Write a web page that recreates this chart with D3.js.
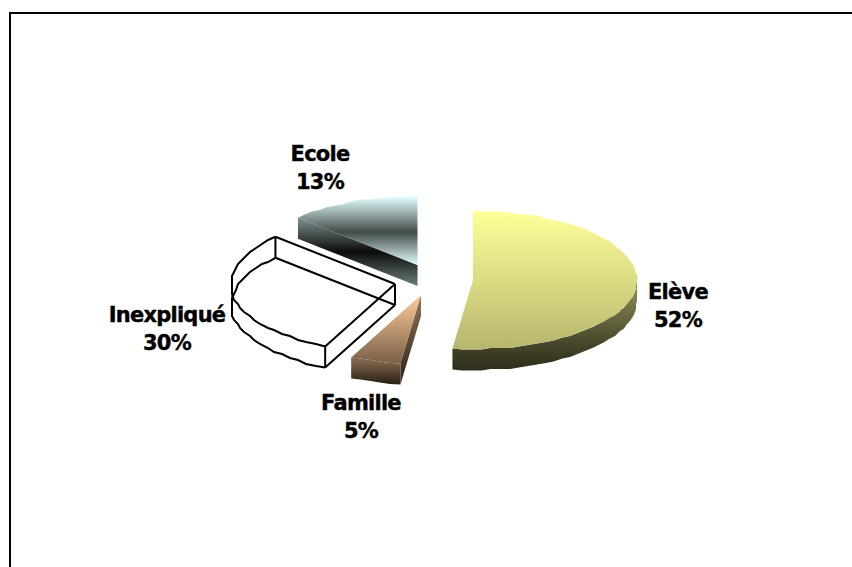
<!DOCTYPE html>
<html>
<head>
<meta charset="utf-8">
<script src="https://cdn.jsdelivr.net/npm/d3@7"></script>
<style>
html, body { margin: 0; padding: 0; background: #fff; }
svg { display: block; }
text { font-family: "DejaVu Sans", sans-serif; font-weight: bold; font-size: 21px; fill: #000; stroke: #000; stroke-width: 0.4px; letter-spacing: -0.75px; text-anchor: middle; }
</style>
</head>
<body>
<script>
'use strict';

var categories = ['Elève', 'Famille', 'Inexpliqué', 'Ecole'];
var values = [52, 5, 30, 13];
var centers = [[473, 280], [421, 295], [395, 284], [417.5, 265]];
var labelPos = [[678, 299], [361, 410], [167, 322], [320, 161]];

var width = 852, height = 567;
var rx = 164, ry = 69, depth = 21;

var svg = d3.select('body').append('svg').attr('width', width).attr('height', height);
var defs = svg.append('defs');

function gradient(id, y0, y1, stops) {
    var g = defs.append('linearGradient').attr('id', id)
        .attr('gradientUnits', 'userSpaceOnUse')
        .attr('x1', 0).attr('x2', 0).attr('y1', y0).attr('y2', y1);
    stops.forEach(function(s) {
        g.append('stop').attr('offset', s[0]).attr('stop-color', s[1]);
    });
}

gradient('eleveTop', 211, 349, [[0, '#ffff99'], [1, '#b6b66e']]);
gradient('eleveWall', 285, 370, [[0, '#8f8f59'], [0.7, '#45452a'], [1, '#2e2e1b']]);
gradient('familleTop', 295, 384, [[0, '#ffcc99'], [0.76, '#7a6148'], [1, '#2a2015']]);
gradient('familleWall', 296, 384, [[0, '#8f7357'], [1, '#2e2419']]);
gradient('ecoleTop', 197, 265, [[0, '#e3ffff'], [0.52, '#414b49'], [1, '#e3ffff']]);
gradient('ecoleWall', 218, 287, [[0, '#7f9090'], [0.49, '#0c0c0c'], [1, '#6f8280']]);

var pie = d3.pie().sort(null).value(function(d) { return d; });
var arcs = pie(values);

// project a pie angle onto the tilted ellipse
function project(c, a, dz) {
    return [c[0] + rx * Math.sin(a), c[1] - ry * Math.cos(a) + (dz || 0)];
}

// rim as a coarse polyline snapped to a small grid, that gives the scalloped edge
function rimPoints(c, a0, a1, dz, step, grid) {
    var n = Math.max(2, Math.round((a1 - a0) / step));
    return d3.range(n + 1).map(function(i) {
        var p = project(c, a0 + (a1 - a0) * i / n, dz);
        if (i === 0 || i === n) return p;
        return [Math.round(p[0] / grid) * grid, Math.round(p[1] / grid) * grid];
    });
}

var line = d3.line();
var rimStep = Math.PI / 54;

function facePath(c, d) {
    return line([c].concat(rimPoints(c, d.startAngle, d.endAngle, 0, rimStep, 1.5))) + 'Z';
}

function outerWallPath(c, a0, a1) {
    var top = rimPoints(c, a0, a1, 0, rimStep, 1.5);
    var bottom = rimPoints(c, a0, a1, depth, rimStep, 1.5).reverse();
    return line(top.concat(bottom)) + 'Z';
}

function sideWallPath(c, a) {
    var p = project(c, a, 0);
    return line([c, p, [p[0], p[1] + depth], [c[0], c[1] + depth]]) + 'Z';
}

var g = svg.append('g');

// Ecole
g.append('path').attr('d', sideWallPath(centers[3], arcs[3].startAngle)).attr('fill', 'url(#ecoleWall)');
g.append('path').attr('d', facePath(centers[3], arcs[3])).attr('fill', 'url(#ecoleTop)');

// Inexpliqué is a white wireframe
var c2 = centers[2], a2 = arcs[2];
function wireRim(dz) {
    return rimPoints(c2, a2.startAngle, a2.endAngle, dz, Math.PI / 48, 2);
}
g.append('path').attr('d', line([c2].concat(wireRim(0))) + 'Z').attr('fill', '#fff');
var wire = g.append('g').attr('fill', 'none').attr('stroke', '#000').attr('stroke-width', 2);
wire.append('path').attr('d', line(wireRim(0)));
wire.append('path').attr('d', line(wireRim(depth)));
[a2.startAngle, a2.endAngle].forEach(function(a) {
    var p = project(c2, a, 0);
    wire.append('path').attr('d', line([c2, p]));
    wire.append('path').attr('d', line([[c2[0], c2[1] + depth], [p[0], p[1] + depth]]));
    wire.append('path').attr('d', line([p, [p[0], p[1] + depth]]));
});
wire.append('path').attr('d', line([c2, [c2[0], c2[1] + depth]]));

// Famille
g.append('path').attr('d', sideWallPath(centers[1], arcs[1].startAngle)).attr('fill', 'url(#familleWall)');
g.append('path').attr('d', outerWallPath(centers[1], arcs[1].startAngle, arcs[1].endAngle)).attr('fill', 'url(#familleTop)');
g.append('path').attr('d', facePath(centers[1], arcs[1])).attr('fill', 'url(#familleTop)');

// Elève, only the rim facing the viewer shows a wall
g.append('path').attr('d', outerWallPath(centers[0], Math.PI / 2, arcs[0].endAngle)).attr('fill', 'url(#eleveWall)');
g.append('path').attr('d', facePath(centers[0], arcs[0])).attr('fill', 'url(#eleveTop)');

// labels
categories.forEach(function(name, i) {
    var t = svg.append('text').attr('x', labelPos[i][0]).attr('y', labelPos[i][1]);
    t.append('tspan').attr('x', labelPos[i][0]).text(name);
    t.append('tspan').attr('x', labelPos[i][0]).attr('dy', 27.5).text(values[i] + '%');
});

// frame, open on the right and at the bottom
svg.append('path').attr('d', line([[10, height], [10, 13], [width, 13]]))
    .attr('fill', 'none').attr('stroke', '#000').attr('stroke-width', 2);
</script>
</body>
</html>
